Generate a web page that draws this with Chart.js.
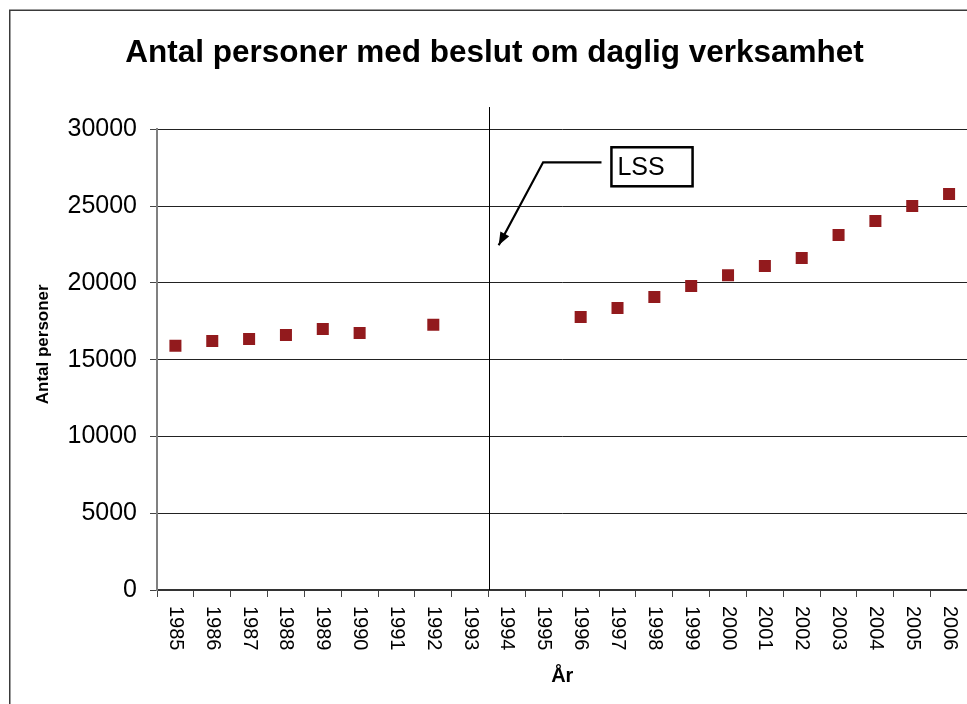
<!DOCTYPE html>
<html>
<head>
<meta charset="utf-8">
<script src="https://cdn.jsdelivr.net/npm/chart.js@4"></script>
<style>
    html, body { margin: 0; padding: 0; background: #fff; overflow: hidden; }
    canvas { display: block; }
</style>
</head>
<body>
<canvas id="dagligChart" width="976" height="704"></canvas>
<script>
// data
const years = ["1985", "1986", "1987", "1988", "1989", "1990", "1991", "1992", "1993", "1994", "1995",
    "1996", "1997", "1998", "1999", "2000", "2001", "2002", "2003", "2004", "2005", "2006"];
const antalPersoner = [15900, 16220, 16350, 16610, 17000, 16740, null, 17270, null, null, null,
    17780, 18370, 19080, 19800, 20500, 21100, 21620, 23120, 24030, 25000, 25790];
const yMax = 30000;
const yStep = 5000;

const FONT = "'Liberation Sans', Arial, sans-serif";
Chart.defaults.font.family = FONT;
Chart.defaults.color = "#000";

// frame, LSS-line, annotation, y title and the rotated year labels
const extras = {
    id: "extras",
    beforeDraw(chart) {
        const c = chart.ctx;
        c.save();
        c.strokeStyle = "#3a3a3a";
        c.lineWidth = 1.5;
        c.strokeRect(9.75, 10.25, 2000, 2000);
        c.restore();
    },
    afterDraw(chart) {
        const c = chart.ctx;
        const xs = chart.scales.x;
        const ys = chart.scales.y;
        const px = v => xs.getPixelForValue(v);
        const py = v => ys.getPixelForValue(v);

        // y axis title (sits a bit above the middle in the original)
        c.save();
        c.fillStyle = "#000";
        c.font = "bold 17px " + FONT;
        c.textAlign = "center";
        c.textBaseline = "middle";
        c.translate(43, py(16000));
        c.rotate(-Math.PI / 2);
        c.fillText("Antal personer", 0, 0);
        c.restore();

        // year labels, rotated clockwise
        c.save();
        c.fillStyle = "#000";
        c.font = "20px " + FONT;
        c.textAlign = "left";
        c.textBaseline = "middle";
        years.forEach((yr, i) => {
            c.save();
            c.translate(xs.getPixelForTick(i), 606);
            c.rotate(Math.PI / 2);
            c.fillText(yr, 0, 0);
            c.restore();
        });
        c.restore();

        // vertical line between 1993 and 1994
        const lx = Math.round((px(8) + px(9)) / 2) + 0.5;
        c.save();
        c.strokeStyle = "#000";
        c.lineWidth = 1;
        c.beginPath();
        c.moveTo(lx, py(31450));
        c.lineTo(lx, py(0));
        c.stroke();

        // LSS callout
        const bx0 = px(11.835), bx1 = px(14.037);
        const by0 = py(28830), by1 = py(26290);
        c.fillStyle = "#fff";
        c.shadowColor = "rgba(0,0,0,0.25)";
        c.shadowOffsetX = 1;
        c.shadowOffsetY = 1;
        c.fillRect(bx0, by0, bx1 - bx0, by1 - by0);
        c.shadowColor = "transparent";
        c.lineWidth = 2.5;
        c.strokeStyle = "#000";
        c.strokeRect(bx0, by0, bx1 - bx0, by1 - by0);
        c.fillStyle = "#000";
        c.font = "25px " + FONT;
        c.textAlign = "left";
        c.textBaseline = "middle";
        c.fillText("LSS", bx0 + 6, (by0 + by1) / 2 + 1);

        const ax0 = px(11.565), ay0 = py(27850);
        const ax1 = px(9.981);
        const tipX = px(8.774), tipY = py(22450);
        c.lineWidth = 2.2;
        c.beginPath();
        c.moveTo(ax0, ay0);
        c.lineTo(ax1, ay0);
        c.lineTo(tipX, tipY);
        c.stroke();
        const ang = Math.atan2(tipY - ay0, tipX - ax1);
        const len = 13, wid = 5;
        c.beginPath();
        c.moveTo(tipX, tipY);
        c.lineTo(tipX - len * Math.cos(ang) + wid * Math.sin(ang), tipY - len * Math.sin(ang) - wid * Math.cos(ang));
        c.lineTo(tipX - len * Math.cos(ang) - wid * Math.sin(ang), tipY - len * Math.sin(ang) + wid * Math.cos(ang));
        c.closePath();
        c.fill();
        c.restore();
    }
};

new Chart(document.getElementById("dagligChart"), {
    type: "line",
    data: {
        labels: years,
        datasets: [{
            label: "Antal personer",
            data: antalPersoner,
            showLine: false,
            pointStyle: "rect",
            pointRadius: 8.5,
            pointHoverRadius: 8.5,
            pointBorderWidth: 0,
            pointBackgroundColor: "#921a1d",
            pointBorderColor: "#921a1d"
        }]
    },
    options: {
        responsive: false,
        devicePixelRatio: 1,
        animation: false,
        events: [],
        layout: { padding: { left: 13, top: 0, bottom: 0, right: 0 } },
        plugins: {
            legend: { display: false },
            tooltip: { enabled: false },
            title: {
                display: true,
                text: "Antal personer med beslut om daglig verksamhet",
                color: "#000",
                font: { size: 31.5, weight: "bold" },
                padding: { top: 34, bottom: 57.5 }
            }
        },
        scales: {
            x: {
                type: "category",
                offset: true,
                afterFit(scale) { scale.height = 114; },
                grid: {
                    display: true,
                    offset: true,
                    drawOnChartArea: false,
                    drawTicks: true,
                    tickLength: 7,
                    tickColor: "#444"
                },
                border: { display: true, color: "#333", width: 2 },
                ticks: { display: false },
                title: {
                    display: true,
                    text: "År",
                    color: "#000",
                    font: { size: 20, weight: "bold" },
                    padding: { top: 0, bottom: 16 }
                }
            },
            y: {
                min: 0,
                max: yMax,
                afterFit(scale) { scale.width = 144; },
                ticks: {
                    stepSize: yStep,
                    color: "#000",
                    padding: 13,
                    font: { size: 25 },
                    callback: v => String(v)
                },
                grid: {
                    color: "#222",
                    lineWidth: 1,
                    drawTicks: true,
                    tickLength: 7,
                    tickColor: "#444"
                },
                border: { display: true, color: "#808080", width: 2 }
            }
        }
    },
    plugins: [extras]
});
</script>
</body>
</html>
